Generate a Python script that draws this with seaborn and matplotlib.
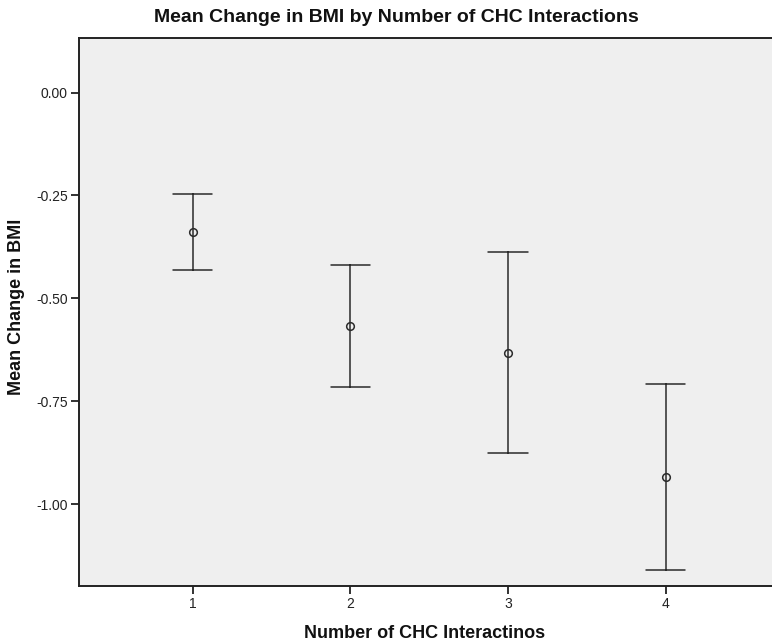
import numpy as np
import pandas as pd
import matplotlib.pyplot as plt
import seaborn as sns

# values
groups = [1, 2, 3, 4]
means = [-0.338, -0.568, -0.633, -0.933]
upper = [-0.246, -0.420, -0.388, -0.708]
lower = [-0.431, -0.715, -0.876, -1.160]

# long form: lower / mean / upper per group, median gives the mean, min/max the bar
rows = []
for g, lo, m, hi in zip(groups, lower, means, upper):
    for v in (lo, m, hi):
        rows.append({'n': g, 'val': v})
df = pd.DataFrame(rows)

sns.set_style('white')
plt.rcParams['font.family'] = ['Liberation Sans', 'DejaVu Sans']

fig = plt.figure(figsize=(7.72, 6.44), dpi=100)
ax = fig.add_axes([79 / 772, 58 / 644, 693 / 772, 547.7 / 644])
ax.set_facecolor('#efefef')

sns.pointplot(data=df, x='n', y='val', estimator='median',
              errorbar=lambda x: (x.min(), x.max()),
              native_scale=True, capsize=0.25, color='#2b2b2b',
              markers='o', linestyles='none', markersize=5.5,
              markerfacecolor='none', markeredgewidth=1.1,
              err_kws={'linewidth': 1.1}, ax=ax)

ax.set_xlim(0.279, 4.674)
ax.set_ylim(-1.199, 0.132)
ax.set_xticks(groups)
ax.set_xticklabels([str(g) for g in groups])
ax.set_yticks([0, -0.25, -0.5, -0.75, -1.0])
ax.set_yticklabels(['0.00', '-0.25', '-0.50', '-0.75', '-1.00'])
ax.tick_params(axis='both', direction='out', length=6, width=1.3,
               color='#222222', labelsize=10, labelcolor='#222222', pad=2,
               left=True, bottom=True)

for side in ['left', 'top', 'bottom']:
    ax.spines[side].set_visible(True)
    ax.spines[side].set_color('#222222')
    ax.spines[side].set_linewidth(1.4)
ax.spines['right'].set_visible(False)

ax.set_xlabel('')
ax.set_ylabel('')
fig.text(396 / 772, 1 - 18 / 644, 'Mean Change in BMI by Number of CHC Interactions',
         ha='center', va='center', fontsize=14, fontweight='bold', color='#111111')
fig.text(425 / 772, 1 - 634 / 644, 'Number of CHC Interactinos',
         ha='center', va='center', fontsize=13, fontweight='bold', color='#111111')
fig.text(17 / 772, 1 - 307 / 644, 'Mean Change in BMI', rotation=90,
         ha='center', va='center', fontsize=13, fontweight='bold', color='#111111')

fig.savefig('out.png', dpi=100)
